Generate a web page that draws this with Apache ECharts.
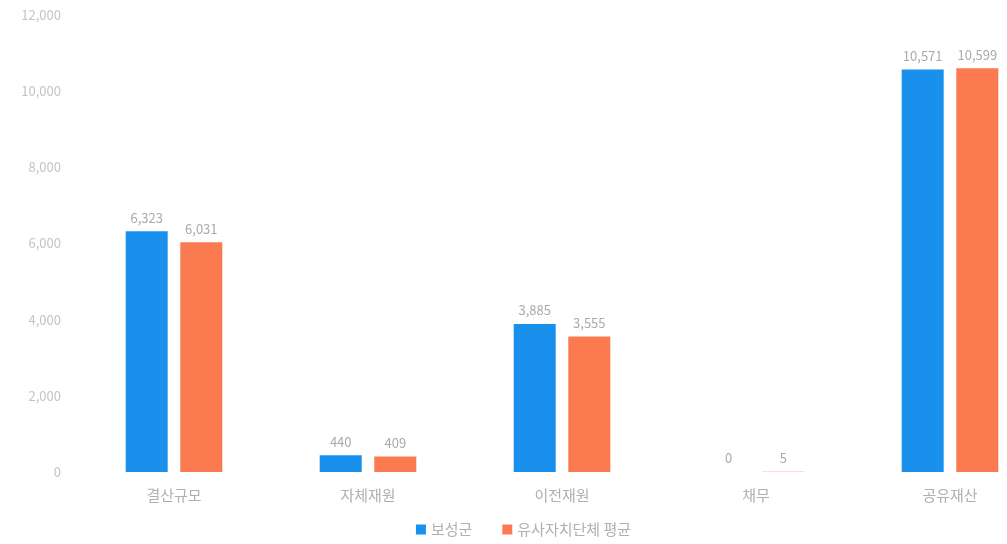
<!DOCTYPE html>
<html><head><meta charset="utf-8">
<script src="https://cdn.jsdelivr.net/npm/echarts@6/dist/echarts.min.js"></script>
<style>html,body{margin:0;padding:0;background:#fff;overflow:hidden}#c{width:1047px;height:544px}</style>
</head><body><div id="c"></div>
<script>
const categories = ['결산규모', '자체재원', '이전재원', '채무', '공유재산'];
const seriesNames = ['보성군', '유사자치단체 평균'];
const ownValues = [6323, 440, 3885, 0, 10571];
const avgValues = [6031, 409, 3555, 5, 10599];
const yTicks = { min: 0, max: 12000, interval: 2000 };

const chart = echarts.init(document.getElementById('c'));
const font = '"Noto Sans CJK KR", "Noto Sans", sans-serif';
const lbl = {
  show: true, position: 'top', distance: 7, color: '#aaa', fontSize: 13, fontFamily: font,
  formatter: p => p.value.toLocaleString('en-US')
};
chart.setOption({
  animation: false,
  textStyle: { fontFamily: font },
  grid: { left: 77, right: 0, top: 15, bottom: 72, containLabel: false },
  legend: {
    bottom: 2, left: 'center', itemWidth: 10, itemHeight: 10, itemGap: 30,
    textStyle: { color: '#b0b0b0', fontSize: 15, fontFamily: font },
    data: seriesNames.map(n => ({ name: n, icon: 'rect' }))
  },
  xAxis: {
    type: 'category', data: categories,
    axisLine: { show: false }, axisTick: { show: false },
    axisLabel: { color: '#b0b0b0', fontSize: 15, margin: 16, fontFamily: font }
  },
  yAxis: {
    type: 'value', min: yTicks.min, max: yTicks.max, interval: yTicks.interval,
    splitLine: { show: false }, axisLine: { show: false }, axisTick: { show: false },
    axisLabel: { color: '#c4c4c4', fontSize: 13, margin: 16, fontFamily: font,
      formatter: v => v.toLocaleString('en-US') }
  },
  series: [
    { name: seriesNames[0], type: 'bar', data: ownValues, barWidth: 42, barGap: '30%',
      itemStyle: { color: '#1890ec' }, label: lbl },
    { name: seriesNames[1], type: 'bar', data: avgValues, barWidth: 42,
      itemStyle: { color: '#fb7a50' }, label: lbl }
  ]
});
</script></body></html>
